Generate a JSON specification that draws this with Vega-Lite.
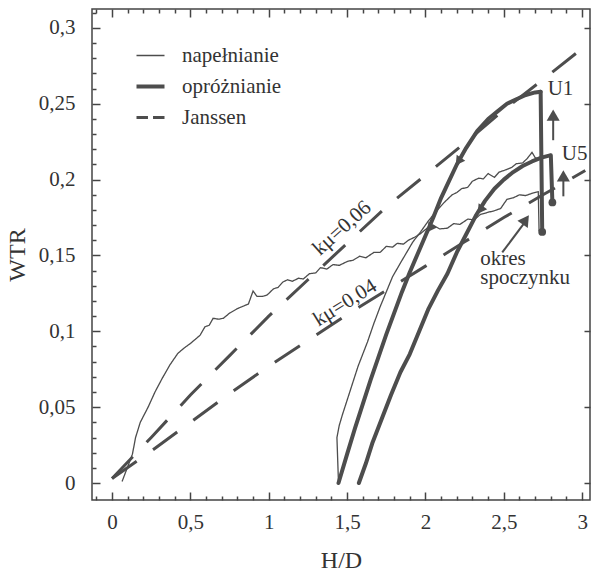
{
"$schema": "https://vega.github.io/schema/vega-lite/v6.json",
"width": 498, "height": 491,
"autosize": {"type": "none"},
"padding": {"left": 92, "top": 9, "right": 3, "bottom": 73},
"background": "white",
"config": {
  "view": {"stroke": "#444", "strokeWidth": 1.5},
  "font": "Liberation Serif",
  "axis": {"grid": false, "domainColor": "#444", "domainWidth": 1.5, "tickColor": "#444", "tickWidth": 1.5, "labelFont": "Liberation Serif", "labelFontSize": 21, "labelColor": "#333", "titleFont": "Liberation Serif", "titleFontSize": 24, "titleFontWeight": "normal", "titleColor": "#333"},
  "text": {"font": "Liberation Serif", "fontSize": 21, "color": "#333"}
},
"datasets": {
  "fill": [
    {"s":"T1","t":"napełnianie","x":0.064,"y":0.001},{"s":"T1","t":"napełnianie","x":0.13,"y":0.019},{"s":"T1","t":"napełnianie","x":0.15,"y":0.030},{"s":"T1","t":"napełnianie","x":0.18,"y":0.040},{"s":"T1","t":"napełnianie","x":0.23,"y":0.050},{"s":"T1","t":"napełnianie","x":0.274,"y":0.060},{"s":"T1","t":"napełnianie","x":0.32,"y":0.069},{"s":"T1","t":"napełnianie","x":0.37,"y":0.078},{"s":"T1","t":"napełnianie","x":0.42,"y":0.0855},{"s":"T1","t":"napełnianie","x":0.46,"y":0.089},{"s":"T1","t":"napełnianie","x":0.50,"y":0.092},{"s":"T1","t":"napełnianie","x":0.54,"y":0.0955},{"s":"T1","t":"napełnianie","x":0.562,"y":0.0975},{"s":"T1","t":"napełnianie","x":0.593,"y":0.103},{"s":"T1","t":"napełnianie","x":0.62,"y":0.104},{"s":"T1","t":"napełnianie","x":0.645,"y":0.1086},{"s":"T1","t":"napełnianie","x":0.68,"y":0.108},{"s":"T1","t":"napełnianie","x":0.71,"y":0.1086},{"s":"T1","t":"napełnianie","x":0.75,"y":0.112},{"s":"T1","t":"napełnianie","x":0.80,"y":0.115},{"s":"T1","t":"napełnianie","x":0.87,"y":0.118},{"s":"T1","t":"napełnianie","x":0.90,"y":0.1266},{"s":"T1","t":"napełnianie","x":0.925,"y":0.123},{"s":"T1","t":"napełnianie","x":0.96,"y":0.123},{"s":"T1","t":"napełnianie","x":0.99,"y":0.124},{"s":"T1","t":"napełnianie","x":1.03,"y":0.128},{"s":"T1","t":"napełnianie","x":1.06,"y":0.129},{"s":"T1","t":"napełnianie","x":1.09,"y":0.1325},{"s":"T1","t":"napełnianie","x":1.12,"y":0.134},{"s":"T1","t":"napełnianie","x":1.15,"y":0.133},{"s":"T1","t":"napełnianie","x":1.19,"y":0.135},{"s":"T1","t":"napełnianie","x":1.22,"y":0.1345},{"s":"T1","t":"napełnianie","x":1.26,"y":0.138},{"s":"T1","t":"napełnianie","x":1.30,"y":0.1385},{"s":"T1","t":"napełnianie","x":1.33,"y":0.142},{"s":"T1","t":"napełnianie","x":1.37,"y":0.141},{"s":"T1","t":"napełnianie","x":1.41,"y":0.144},{"s":"T1","t":"napełnianie","x":1.45,"y":0.1435},{"s":"T1","t":"napełnianie","x":1.50,"y":0.146},{"s":"T1","t":"napełnianie","x":1.54,"y":0.147},{"s":"T1","t":"napełnianie","x":1.58,"y":0.1495},{"s":"T1","t":"napełnianie","x":1.62,"y":0.1485},{"s":"T1","t":"napełnianie","x":1.67,"y":0.152},{"s":"T1","t":"napełnianie","x":1.71,"y":0.152},{"s":"T1","t":"napełnianie","x":1.75,"y":0.156},{"s":"T1","t":"napełnianie","x":1.79,"y":0.1555},{"s":"T1","t":"napełnianie","x":1.82,"y":0.158},{"s":"T1","t":"napełnianie","x":1.86,"y":0.1575},{"s":"T1","t":"napełnianie","x":1.89,"y":0.160},{"s":"T1","t":"napełnianie","x":1.93,"y":0.162},{"s":"T1","t":"napełnianie","x":1.97,"y":0.1645},{"s":"T1","t":"napełnianie","x":2.01,"y":0.168},{"s":"T1","t":"napełnianie","x":2.05,"y":0.170},{"s":"T1","t":"napełnianie","x":2.09,"y":0.1675},{"s":"T1","t":"napełnianie","x":2.14,"y":0.168},{"s":"T1","t":"napełnianie","x":2.18,"y":0.171},{"s":"T1","t":"napełnianie","x":2.22,"y":0.1705},{"s":"T1","t":"napełnianie","x":2.27,"y":0.174},{"s":"T1","t":"napełnianie","x":2.31,"y":0.1735},{"s":"T1","t":"napełnianie","x":2.35,"y":0.177},{"s":"T1","t":"napełnianie","x":2.40,"y":0.1785},{"s":"T1","t":"napełnianie","x":2.44,"y":0.1795},{"s":"T1","t":"napełnianie","x":2.48,"y":0.181},{"s":"T1","t":"napełnianie","x":2.52,"y":0.187},{"s":"T1","t":"napełnianie","x":2.56,"y":0.188},{"s":"T1","t":"napełnianie","x":2.60,"y":0.190},{"s":"T1","t":"napełnianie","x":2.64,"y":0.1895},{"s":"T1","t":"napełnianie","x":2.68,"y":0.191},{"s":"T1","t":"napełnianie","x":2.72,"y":0.192},{"s":"T1","t":"napełnianie","x":2.725,"y":0.166},
    {"s":"T2","t":"napełnianie","x":1.445,"y":0.0},{"s":"T2","t":"napełnianie","x":1.44,"y":0.015},{"s":"T2","t":"napełnianie","x":1.435,"y":0.030},{"s":"T2","t":"napełnianie","x":1.45,"y":0.038},{"s":"T2","t":"napełnianie","x":1.47,"y":0.045},{"s":"T2","t":"napełnianie","x":1.52,"y":0.061},{"s":"T2","t":"napełnianie","x":1.57,"y":0.077},{"s":"T2","t":"napełnianie","x":1.63,"y":0.093},{"s":"T2","t":"napełnianie","x":1.67,"y":0.105},{"s":"T2","t":"napełnianie","x":1.71,"y":0.116},{"s":"T2","t":"napełnianie","x":1.75,"y":0.126},{"s":"T2","t":"napełnianie","x":1.79,"y":0.136},{"s":"T2","t":"napełnianie","x":1.84,"y":0.145},{"s":"T2","t":"napełnianie","x":1.88,"y":0.152},{"s":"T2","t":"napełnianie","x":1.92,"y":0.159},{"s":"T2","t":"napełnianie","x":1.965,"y":0.165},{"s":"T2","t":"napełnianie","x":2.02,"y":0.173},{"s":"T2","t":"napełnianie","x":2.06,"y":0.178},{"s":"T2","t":"napełnianie","x":2.12,"y":0.185},{"s":"T2","t":"napełnianie","x":2.17,"y":0.190},{"s":"T2","t":"napełnianie","x":2.20,"y":0.1915},{"s":"T2","t":"napełnianie","x":2.23,"y":0.194},{"s":"T2","t":"napełnianie","x":2.27,"y":0.195},{"s":"T2","t":"napełnianie","x":2.30,"y":0.199},{"s":"T2","t":"napełnianie","x":2.34,"y":0.201},{"s":"T2","t":"napełnianie","x":2.37,"y":0.2005},{"s":"T2","t":"napełnianie","x":2.40,"y":0.204},{"s":"T2","t":"napełnianie","x":2.44,"y":0.2015},{"s":"T2","t":"napełnianie","x":2.47,"y":0.205},{"s":"T2","t":"napełnianie","x":2.50,"y":0.206},{"s":"T2","t":"napełnianie","x":2.55,"y":0.208},{"s":"T2","t":"napełnianie","x":2.58,"y":0.2105},{"s":"T2","t":"napełnianie","x":2.62,"y":0.211},{"s":"T2","t":"napełnianie","x":2.65,"y":0.214},{"s":"T2","t":"napełnianie","x":2.68,"y":0.218},{"s":"T2","t":"napełnianie","x":2.70,"y":0.2145},{"s":"T2","t":"napełnianie","x":2.72,"y":0.2135}
  ],
  "empty": [
    {"s":"U1v","t":"opróżnianie","x":2.745,"y":0.1655},{"s":"U1v","t":"opróżnianie","x":2.735,"y":0.258},
    {"s":"U1","t":"opróżnianie","x":2.735,"y":0.258},{"s":"U1","t":"opróżnianie","x":2.70,"y":0.2575},{"s":"U1","t":"opróżnianie","x":2.64,"y":0.2558},{"s":"U1","t":"opróżnianie","x":2.58,"y":0.253},{"s":"U1","t":"opróżnianie","x":2.52,"y":0.250},{"s":"U1","t":"opróżnianie","x":2.46,"y":0.245},{"s":"U1","t":"opróżnianie","x":2.40,"y":0.240},{"s":"U1","t":"opróżnianie","x":2.33,"y":0.232},{"s":"U1","t":"opróżnianie","x":2.26,"y":0.221},{"s":"U1","t":"opróżnianie","x":2.20,"y":0.210},{"s":"U1","t":"opróżnianie","x":2.15,"y":0.199},{"s":"U1","t":"opróżnianie","x":2.10,"y":0.188},{"s":"U1","t":"opróżnianie","x":2.05,"y":0.175},{"s":"U1","t":"opróżnianie","x":2.00,"y":0.163},{"s":"U1","t":"opróżnianie","x":1.95,"y":0.151},{"s":"U1","t":"opróżnianie","x":1.90,"y":0.139},{"s":"U1","t":"opróżnianie","x":1.85,"y":0.126},{"s":"U1","t":"opróżnianie","x":1.80,"y":0.112},{"s":"U1","t":"opróżnianie","x":1.75,"y":0.098},{"s":"U1","t":"opróżnianie","x":1.70,"y":0.083},{"s":"U1","t":"opróżnianie","x":1.65,"y":0.068},{"s":"U1","t":"opróżnianie","x":1.60,"y":0.052},{"s":"U1","t":"opróżnianie","x":1.55,"y":0.036},{"s":"U1","t":"opróżnianie","x":1.50,"y":0.019},{"s":"U1","t":"opróżnianie","x":1.445,"y":0.0},
    {"s":"U5v","t":"opróżnianie","x":2.81,"y":0.185},{"s":"U5v","t":"opróżnianie","x":2.80,"y":0.216},
    {"s":"U5","t":"opróżnianie","x":2.795,"y":0.216},{"s":"U5","t":"opróżnianie","x":2.74,"y":0.2145},{"s":"U5","t":"opróżnianie","x":2.68,"y":0.212},{"s":"U5","t":"opróżnianie","x":2.62,"y":0.209},{"s":"U5","t":"opróżnianie","x":2.56,"y":0.205},{"s":"U5","t":"opróżnianie","x":2.50,"y":0.200},{"s":"U5","t":"opróżnianie","x":2.44,"y":0.194},{"s":"U5","t":"opróżnianie","x":2.38,"y":0.186},{"s":"U5","t":"opróżnianie","x":2.32,"y":0.176},{"s":"U5","t":"opróżnianie","x":2.26,"y":0.164},{"s":"U5","t":"opróżnianie","x":2.20,"y":0.152},{"s":"U5","t":"opróżnianie","x":2.14,"y":0.138},{"s":"U5","t":"opróżnianie","x":2.08,"y":0.127},{"s":"U5","t":"opróżnianie","x":2.02,"y":0.115},{"s":"U5","t":"opróżnianie","x":1.96,"y":0.100},{"s":"U5","t":"opróżnianie","x":1.90,"y":0.085},{"s":"U5","t":"opróżnianie","x":1.84,"y":0.073},{"s":"U5","t":"opróżnianie","x":1.78,"y":0.058},{"s":"U5","t":"opróżnianie","x":1.72,"y":0.042},{"s":"U5","t":"opróżnianie","x":1.66,"y":0.026},{"s":"U5","t":"opróżnianie","x":1.62,"y":0.013},{"s":"U5","t":"opróżnianie","x":1.575,"y":0.0}
  ],
  "janssen": [
    {"s":"J06","t":"Janssen","x":0,"y":0.003},{"s":"J06","t":"Janssen","x":0.25,"y":0.030},{"s":"J06","t":"Janssen","x":0.5,"y":0.058},{"s":"J06","t":"Janssen","x":0.75,"y":0.084},{"s":"J06","t":"Janssen","x":1.0,"y":0.110},{"s":"J06","t":"Janssen","x":1.25,"y":0.134},{"s":"J06","t":"Janssen","x":1.5,"y":0.158},{"s":"J06","t":"Janssen","x":1.75,"y":0.182},{"s":"J06","t":"Janssen","x":2.0,"y":0.203},{"s":"J06","t":"Janssen","x":2.25,"y":0.224},{"s":"J06","t":"Janssen","x":2.5,"y":0.246},{"s":"J06","t":"Janssen","x":2.75,"y":0.266},{"s":"J06","t":"Janssen","x":2.97,"y":0.284},
    {"s":"J04","t":"Janssen","x":0,"y":0.003},{"s":"J04","t":"Janssen","x":0.25,"y":0.021},{"s":"J04","t":"Janssen","x":0.5,"y":0.040},{"s":"J04","t":"Janssen","x":0.75,"y":0.059},{"s":"J04","t":"Janssen","x":1.0,"y":0.077},{"s":"J04","t":"Janssen","x":1.25,"y":0.094},{"s":"J04","t":"Janssen","x":1.5,"y":0.111},{"s":"J04","t":"Janssen","x":1.75,"y":0.127},{"s":"J04","t":"Janssen","x":2.0,"y":0.143},{"s":"J04","t":"Janssen","x":2.25,"y":0.159},{"s":"J04","t":"Janssen","x":2.5,"y":0.175},{"s":"J04","t":"Janssen","x":2.75,"y":0.190},{"s":"J04","t":"Janssen","x":3.02,"y":0.206}
  ],
  "dots": [{"x":2.745,"y":0.1655},{"x":2.81,"y":0.185}],
  "shafts": [{"x":2.815,"y":0.226,"x2":2.815,"y2":0.240},{"x":2.88,"y":0.189,"x2":2.88,"y2":0.200},{"x":2.49,"y":0.152,"x2":2.635,"y2":0.172}],
  "upheads": [{"x":2.815,"y":0.2425},{"x":2.88,"y":0.2025}],
  "labels": [{"x":2.78,"y":0.256,"label":"U1"},{"x":2.87,"y":0.213,"label":"U5"},{"x":2.35,"y":0.1437,"label":"okres"},{"x":2.35,"y":0.1315,"label":"spoczynku"}]
},
"layer": [
  {"data": {"name": "janssen"}, "mark": {"type": "point", "opacity": 0},
   "encoding": {
     "x": {"field": "x", "type": "quantitative", "scale": {"domain": [-0.128, 3.05], "nice": false, "zero": false},
           "axis": {"orient": "bottom", "values": [0,0.5,1,1.5,2,2.5,3], "ticks": false, "domain": false, "labelPadding": 11, "labelExpr": "replace(toString(datum.value), '.', ',')", "title": "H/D", "titlePadding": 16}},
     "y": {"field": "y", "type": "quantitative", "scale": {"domain": [-0.0112, 0.3125], "nice": false, "zero": false},
           "axis": {"orient": "left", "values": [0,0.05,0.1,0.15,0.2,0.25,0.3], "ticks": false, "domain": false, "labelPadding": 17, "labelExpr": "replace(toString(datum.value), '.', ',')", "title": "WTR", "titlePadding": 9}}
   }},
  {"data": {"name": "janssen"}, "mark": {"type": "point", "opacity": 0},
   "encoding": {
     "x": {"field": "x", "type": "quantitative", "scale": {"domain": [-0.128, 3.05], "nice": false, "zero": false},
           "axis": {"orient": "bottom", "offset": -8, "values": [0,0.5,1,1.5,2,2.5,3], "tickSize": 8, "labels": false, "domain": false, "title": null}},
     "y": {"field": "y", "type": "quantitative", "scale": {"domain": [-0.0112, 0.3125], "nice": false, "zero": false},
           "axis": {"orient": "left", "offset": -8, "values": [0,0.05,0.1,0.15,0.2,0.25,0.3], "tickSize": 8, "labels": false, "domain": false, "title": null}}
   }},
  {"data": {"name": "janssen"}, "mark": {"type": "point", "opacity": 0},
   "encoding": {
     "x": {"field": "x", "type": "quantitative", "scale": {"domain": [-0.128, 3.05], "nice": false, "zero": false},
           "axis": {"orient": "bottom", "offset": -4, "values": [-0.1,0.1,0.2,0.3,0.4,0.6,0.7,0.8,0.9,1.1,1.2,1.3,1.4,1.6,1.7,1.8,1.9,2.1,2.2,2.3,2.4,2.6,2.7,2.8,2.9], "tickSize": 4, "labels": false, "domain": false, "title": null}},
     "y": {"field": "y", "type": "quantitative", "scale": {"domain": [-0.0112, 0.3125], "nice": false, "zero": false},
           "axis": {"orient": "left", "offset": -4, "values": [0.01,0.02,0.03,0.04,0.06,0.07,0.08,0.09,0.11,0.12,0.13,0.14,0.16,0.17,0.18,0.19,0.21,0.22,0.23,0.24,0.26,0.27,0.28,0.29,0.31], "tickSize": 4, "labels": false, "domain": false, "title": null}}
   }},
  {"data": {"name": "janssen"}, "mark": {"type": "point", "opacity": 0},
   "encoding": {
     "x": {"field": "x", "type": "quantitative", "scale": {"domain": [-0.128, 3.05], "nice": false, "zero": false},
           "axis": {"orient": "top", "offset": -8, "values": [0,0.5,1,1.5,2,2.5,3], "tickSize": 8, "labels": false, "domain": false, "title": null}},
     "y": {"field": "y", "type": "quantitative", "scale": {"domain": [-0.0112, 0.3125], "nice": false, "zero": false},
           "axis": {"orient": "right", "offset": -6, "values": [0,0.05,0.1,0.15,0.2,0.25,0.3], "tickSize": 6, "labels": false, "domain": false, "title": null}}
   }},
  {"data": {"name": "janssen"}, "mark": {"type": "point", "opacity": 0},
   "encoding": {
     "x": {"field": "x", "type": "quantitative", "scale": {"domain": [-0.128, 3.05], "nice": false, "zero": false},
           "axis": {"orient": "top", "offset": -4, "values": [-0.1,0.1,0.2,0.3,0.4,0.6,0.7,0.8,0.9,1.1,1.2,1.3,1.4,1.6,1.7,1.8,1.9,2.1,2.2,2.3,2.4,2.6,2.7,2.8,2.9], "tickSize": 4, "labels": false, "domain": false, "title": null}},
     "y": {"field": "y", "type": "quantitative", "scale": {"domain": [-0.0112, 0.3125], "nice": false, "zero": false}, "axis": null}
   }},
  {"data": {"name": "fill"}, "mark": {"type": "line", "strokeWidth": 1.3, "color": "#4d4d4d"},
   "encoding": {
     "x": {"field": "x", "type": "quantitative", "scale": {"domain": [-0.128, 3.05], "nice": false, "zero": false}, "axis": null},
     "y": {"field": "y", "type": "quantitative", "scale": {"domain": [-0.0112, 0.3125], "nice": false, "zero": false}, "axis": null},
     "detail": {"field": "s"},
     "order": {"value": null},
     "strokeDash": {"field": "t", "type": "nominal", "scale": {"domain": ["napełnianie", "opróżnianie", "Janssen"], "range": [[1,0],[1,0],[1,0]]},
       "legend": {"title": null, "orient": "none", "legendX": 48, "legendY": 36, "symbolType": "stroke", "symbolSize": 784, "symbolStrokeColor": "#4d4d4d", "labelFont": "Liberation Serif", "labelFontSize": 21, "labelColor": "#333", "labelOffset": 21, "rowPadding": 9, "padding": 0,
         "encode": {"symbols": {"update": {
           "shape": {"signal": "datum.value === 'Janssen' ? 'M-1,0H-0.18M0.18,0H1' : 'M-1,0H1'"},
           "strokeDash": {"value": []},
           "strokeCap": {"value": "butt"},
           "strokeWidth": {"signal": "datum.value === 'opróżnianie' ? 4 : datum.value === 'Janssen' ? 3 : 1.5"}}}}}}
   }},
  {"data": {"name": "empty"}, "mark": {"type": "line", "strokeWidth": 4, "color": "#4d4d4d", "strokeCap": "round", "strokeJoin": "round"},
   "encoding": {
     "x": {"field": "x", "type": "quantitative", "scale": {"domain": [-0.128, 3.05], "nice": false, "zero": false}, "axis": null},
     "y": {"field": "y", "type": "quantitative", "scale": {"domain": [-0.0112, 0.3125], "nice": false, "zero": false}, "axis": null},
     "detail": {"field": "s"},
     "order": {"value": null}
   }},
  {"data": {"name": "janssen"}, "mark": {"type": "line", "strokeWidth": 3, "color": "#4d4d4d", "strokeDash": [30, 20]},
   "encoding": {
     "x": {"field": "x", "type": "quantitative", "scale": {"domain": [-0.128, 3.05], "nice": false, "zero": false}, "axis": null},
     "y": {"field": "y", "type": "quantitative", "scale": {"domain": [-0.0112, 0.3125], "nice": false, "zero": false}, "axis": null},
     "detail": {"field": "s"},
     "order": {"value": null}
   }},
  {"data": {"name": "dots"}, "mark": {"type": "point", "shape": "circle", "filled": true, "size": 60, "color": "#4d4d4d", "opacity": 1},
   "encoding": {
     "x": {"field": "x", "type": "quantitative", "scale": {"domain": [-0.128, 3.05], "nice": false, "zero": false}, "axis": null},
     "y": {"field": "y", "type": "quantitative", "scale": {"domain": [-0.0112, 0.3125], "nice": false, "zero": false}, "axis": null}
   }},
  {"data": {"name": "shafts"}, "mark": {"type": "rule", "strokeWidth": 2, "color": "#4d4d4d"},
   "encoding": {
     "x": {"field": "x", "type": "quantitative", "scale": {"domain": [-0.128, 3.05], "nice": false, "zero": false}, "axis": null},
     "y": {"field": "y", "type": "quantitative", "scale": {"domain": [-0.0112, 0.3125], "nice": false, "zero": false}, "axis": null},
     "x2": {"field": "x2"}, "y2": {"field": "y2"}
   }},
  {"data": {"name": "upheads"}, "mark": {"type": "point", "shape": "triangle-up", "filled": true, "size": 170, "color": "#4d4d4d", "opacity": 1},
   "encoding": {
     "x": {"field": "x", "type": "quantitative", "scale": {"domain": [-0.128, 3.05], "nice": false, "zero": false}, "axis": null},
     "y": {"field": "y", "type": "quantitative", "scale": {"domain": [-0.0112, 0.3125], "nice": false, "zero": false}, "axis": null}
   }},
  {"data": {"values": [{"x": 2.64, "y": 0.1735}]}, "mark": {"type": "point", "shape": "triangle-up", "filled": true, "size": 160, "angle": 35, "color": "#4d4d4d", "opacity": 1},
   "encoding": {
     "x": {"field": "x", "type": "quantitative", "scale": {"domain": [-0.128, 3.05], "nice": false, "zero": false}, "axis": null},
     "y": {"field": "y", "type": "quantitative", "scale": {"domain": [-0.0112, 0.3125], "nice": false, "zero": false}, "axis": null}
   }},
  {"data": {"values": [{"x": 2.21, "y": 0.212}, {"x": 2.35, "y": 0.18}, {"x": 2.03, "y": 0.168}]}, "mark": {"type": "point", "shape": "triangle-up", "filled": true, "size": 110, "angle": 215, "color": "#4d4d4d", "opacity": 1},
   "encoding": {
     "x": {"field": "x", "type": "quantitative", "scale": {"domain": [-0.128, 3.05], "nice": false, "zero": false}, "axis": null},
     "y": {"field": "y", "type": "quantitative", "scale": {"domain": [-0.0112, 0.3125], "nice": false, "zero": false}, "axis": null}
   }},
  {"data": {"name": "labels"}, "mark": {"type": "text", "align": "left", "baseline": "alphabetic", "fontSize": 21, "color": "#333"},
   "encoding": {
     "x": {"field": "x", "type": "quantitative", "scale": {"domain": [-0.128, 3.05], "nice": false, "zero": false}, "axis": null},
     "y": {"field": "y", "type": "quantitative", "scale": {"domain": [-0.0112, 0.3125], "nice": false, "zero": false}, "axis": null},
     "text": {"field": "label"}
   }},
  {"data": {"values": [{"x": 1.468, "y": 0.168, "label": "kμ=0,06"}]}, "mark": {"type": "text", "align": "center", "baseline": "middle", "fontSize": 21, "angle": 318, "color": "#333"},
   "encoding": {
     "x": {"field": "x", "type": "quantitative", "scale": {"domain": [-0.128, 3.05], "nice": false, "zero": false}, "axis": null},
     "y": {"field": "y", "type": "quantitative", "scale": {"domain": [-0.0112, 0.3125], "nice": false, "zero": false}, "axis": null},
     "text": {"field": "label"}
   }},
  {"data": {"values": [{"x": 1.487, "y": 0.1187, "label": "kμ=0,04"}]}, "mark": {"type": "text", "align": "center", "baseline": "middle", "fontSize": 21, "angle": 328, "color": "#333"},
   "encoding": {
     "x": {"field": "x", "type": "quantitative", "scale": {"domain": [-0.128, 3.05], "nice": false, "zero": false}, "axis": null},
     "y": {"field": "y", "type": "quantitative", "scale": {"domain": [-0.0112, 0.3125], "nice": false, "zero": false}, "axis": null},
     "text": {"field": "label"}
   }}
],
"resolve": {"axis": {"x": "independent", "y": "independent"}}
}
